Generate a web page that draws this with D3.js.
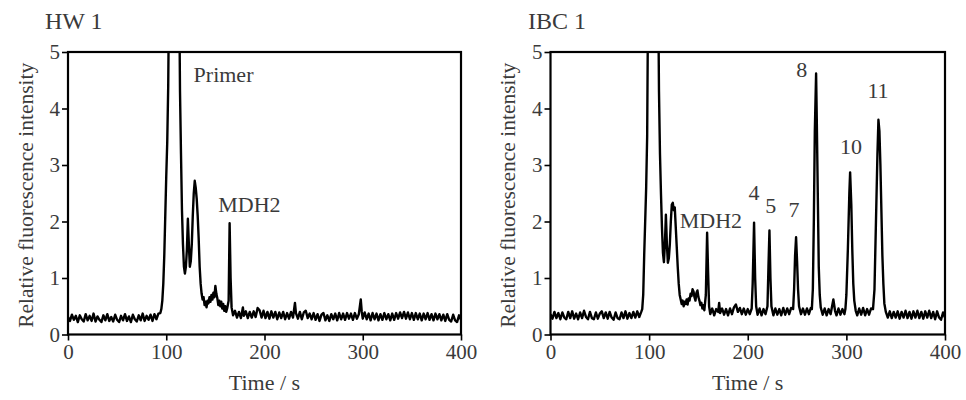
<!DOCTYPE html>
<html><head><meta charset="utf-8">
<script src="https://cdn.jsdelivr.net/npm/d3@7"></script>
<style>
body{margin:0;background:#fff;}
svg text{font-family:"Liberation Serif","Times New Roman",Times,serif;fill:#3a3a3a;}
</style></head>
<body><svg id="c" width="966" height="400"></svg>
<script>
const xTicks=[0,100,200,300,400];
const yTicks=[0,1,2,3,4,5];
const panelTitles=["HW 1","IBC 1"];
const xLabel="Time / s";
const yLabel="Relative fluorescence intensity";

// HW 1 trace [time s, intensity]
const hwTrace=[[0,.31],[2,.24],[4,.35],[6,.26],[8,.33],[10,.22],[12,.34],[14,.27],[16,.23],[18,.36],[20,.25],[22,.33],[24,.24],[26,.37],[28,.23],[30,.32],[32,.26],[34,.22],[36,.34],[38,.25],[40,.36],[42,.24],[44,.31],[46,.23],[48,.35],[50,.26],[52,.22],[54,.33],[56,.25],[58,.36],[60,.24],[62,.32],[64,.22],[66,.35],[68,.27],[70,.23],[72,.34],[74,.25],[76,.37],[78,.24],[80,.33],[82,.26],[84,.35],[86,.24],[88,.36],[90,.27],[92,.37],[94,.38],[95,.45],[96,.6],[97,.9],[98,1.4],[99,2.1],[100,2.8],[101,3.4],[102,4.4],[102.6,5.6],[104,6],[112,6],[113.4,5.6],[114,4.3],[115,3.2],[116,2.2],[117,1.6],[118,1.2],[119,1.08],[120,1.2],[121,1.5],[122,2.05],[123,1.6],[124,1.2],[125,1.3],[126,1.6],[127,2.1],[128,2.5],[129,2.72],[130,2.6],[131,2.4],[132,2.1],[133,1.7],[134,1.2],[135,.9],[136,.72],[137,.62],[138,.66],[139,.52],[140,.58],[141,.48],[142,.6],[143,.55],[144,.66],[145,.58],[146,.7],[147,.62],[148,.74],[149,.66],[150,.86],[151,.72],[152,.64],[153,.52],[154,.6],[155,.5],[156,.58],[157,.46],[158,.54],[159,.42],[160,.5],[161,.4],[162,.46],[163.5,.6],[164.5,1.97],[165.5,1.0],[166.5,.48],[168,.34],[170,.42],[172,.30],[174,.40],[176,.29],[178,.48],[179,.33],[181,.41],[183,.29],[185,.40],[187,.30],[189,.41],[191,.31],[193,.47],[195,.43],[197,.30],[199,.42],[201,.29],[203,.40],[205,.28],[207,.41],[209,.30],[211,.40],[213,.27],[215,.39],[217,.29],[219,.40],[221,.27],[223,.38],[225,.28],[227,.40],[229,.30],[231,.56],[232,.38],[234,.28],[236,.40],[238,.27],[240,.39],[242,.42],[244,.29],[246,.37],[248,.27],[250,.38],[252,.26],[254,.36],[256,.24],[258,.35],[260,.38],[262,.25],[264,.34],[266,.24],[268,.36],[270,.27],[272,.37],[274,.25],[276,.38],[278,.27],[280,.37],[282,.26],[284,.38],[286,.28],[288,.37],[290,.26],[292,.38],[294,.28],[296,.36],[298,.62],[299,.40],[300,.28],[302,.39],[304,.27],[306,.37],[308,.25],[310,.38],[312,.27],[314,.37],[316,.25],[318,.36],[320,.26],[322,.38],[324,.27],[326,.36],[328,.25],[330,.37],[332,.26],[334,.38],[336,.28],[338,.39],[340,.29],[342,.40],[344,.28],[346,.39],[348,.27],[350,.38],[352,.26],[354,.38],[356,.27],[358,.37],[360,.25],[362,.37],[364,.27],[366,.38],[368,.26],[370,.36],[372,.25],[374,.37],[376,.27],[378,.36],[380,.25],[382,.35],[384,.24],[386,.36],[388,.26],[390,.23],[392,.35],[394,.25],[396,.22],[398,.34],[400,.26]];

// IBC 1 trace [time s, intensity]
const ibcTrace=[[0,.36],[2,.28],[4,.40],[6,.29],[8,.38],[10,.27],[12,.39],[14,.30],[16,.27],[18,.40],[20,.29],[22,.41],[24,.28],[26,.37],[28,.27],[30,.39],[32,.29],[34,.42],[36,.31],[38,.27],[40,.40],[42,.29],[44,.27],[46,.39],[48,.28],[50,.37],[52,.41],[54,.29],[56,.39],[58,.28],[60,.40],[62,.30],[64,.26],[66,.39],[68,.29],[70,.27],[72,.39],[74,.29],[76,.41],[78,.28],[80,.38],[82,.29],[84,.40],[86,.30],[88,.41],[90,.31],[92,.40],[93,.45],[94,.7],[95,1.4],[96,2.0],[97,2.6],[98,3.5],[98.8,5.6],[100,6],[108,6],[109.4,5.6],[110,4.3],[111,3.2],[112,2.5],[113,1.9],[114,1.45],[115,1.28],[116,1.6],[117,2.12],[118,1.6],[119,1.27],[120,1.35],[121,1.6],[122,2.0],[123,2.3],[124,2.33],[125,2.2],[126,2.25],[127,1.9],[128,1.55],[129,1.2],[130,.9],[131,.7],[132,.62],[133,.54],[134,.6],[135,.5],[136,.58],[137,.54],[138,.62],[139,.53],[140,.64],[141,.6],[142,.72],[143,.68],[144,.8],[145,.76],[146,.66],[147,.6],[148,.74],[149,.78],[150,.66],[151,.6],[152,.52],[153,.56],[154,.46],[155,.52],[156,.43],[157.5,.7],[158.8,1.8],[159.8,1.1],[160.8,.5],[162,.36],[164,.46],[166,.34],[168,.45],[170,.40],[171,.56],[172,.38],[174,.46],[176,.35],[178,.45],[180,.34],[182,.46],[184,.36],[186,.48],[188,.53],[190,.40],[192,.47],[194,.36],[196,.46],[198,.35],[200,.45],[202,.36],[204,.46],[205,.9],[206.4,1.98],[207.5,1.0],[208.5,.5],[210,.35],[212,.46],[214,.34],[216,.45],[218,.36],[220,.5],[221,1.2],[222,1.84],[223,1.0],[224,.5],[226,.34],[228,.46],[230,.35],[232,.45],[234,.34],[236,.47],[238,.35],[240,.46],[242,.36],[244,.47],[246,.45],[247,.8],[248,1.4],[249,1.72],[250,1.3],[251,.8],[252,.5],[254,.36],[256,.46],[258,.35],[260,.46],[262,.36],[264,.47],[265,.45],[266,.8],[267,2.0],[268,3.6],[269.3,4.62],[270,3.8],[271,2.5],[272,1.2],[273,.7],[274,.48],[276,.35],[278,.46],[280,.34],[282,.45],[284,.36],[285,.45],[286.8,.62],[288.5,.42],[290,.34],[292,.46],[294,.35],[296,.45],[298,.36],[299,.45],[300,.7],[301.5,1.5],[303,2.5],[303.8,2.87],[305,2.3],[306,1.5],[307,.9],[308,.6],[309.5,.42],[311,.34],[313,.46],[315,.35],[317,.47],[319,.34],[321,.45],[323,.35],[325,.46],[327,.45],[328.5,.8],[330,2.0],[331.5,3.2],[332.5,3.8],[333.5,3.6],[334.5,3.0],[335.5,2.2],[336.5,1.4],[337.5,.9],[338.5,.55],[340,.40],[342,.30],[344,.41],[346,.29],[348,.40],[350,.30],[352,.41],[354,.28],[356,.40],[358,.30],[360,.42],[362,.29],[364,.40],[366,.28],[368,.41],[370,.30],[372,.42],[374,.29],[376,.40],[378,.28],[380,.41],[382,.30],[384,.42],[386,.29],[388,.40],[390,.27],[392,.41],[394,.30],[396,.26],[398,.39],[400,.30]];

const hwLabels=[{t:"Primer",x:158.3,y:4.47},{t:"MDH2",x:184.7,y:2.17}];
const ibcLabels=[{t:"MDH2",x:162.7,y:1.885},{t:"4",x:206.3,y:2.38},{t:"5",x:223.3,y:2.15},{t:"7",x:246.9,y:2.08},{t:"8",x:254.7,y:4.56},{t:"10",x:304.7,y:3.19},{t:"11",x:332.1,y:4.19}];

const svg=d3.select("#c");
const panels=[
 {title:panelTitles[0],data:hwTrace,labels:hwLabels,x0:68,x1:461,titleX:45,ylabX:33},
 {title:panelTitles[1],data:ibcTrace,labels:ibcLabels,x0:550.5,x1:945,titleX:528,ylabX:515}
];
const yTop=52,yBot=334.5;
panels.forEach((p,i)=>{
  const x=d3.scaleLinear().domain([0,400]).range([p.x0,p.x1]);
  const y=d3.scaleLinear().domain([0,5]).range([yBot,yTop]);
  const g=svg.append("g");
  const cid="clip"+i;
  svg.append("clipPath").attr("id",cid).append("rect")
    .attr("x",p.x0).attr("y",yTop).attr("width",p.x1-p.x0).attr("height",yBot-yTop);
  g.append("path").datum(p.data)
    .attr("clip-path",`url(#${cid})`)
    .attr("fill","none").attr("stroke","#000").attr("stroke-width",2.4).attr("stroke-linejoin","round")
    .attr("d",d3.line().x(d=>x(d[0])).y(d=>y(d[1])));
  g.append("rect").attr("x",p.x0).attr("y",yTop).attr("width",p.x1-p.x0).attr("height",yBot-yTop)
    .attr("fill","none").attr("stroke","#000").attr("stroke-width",2.2);
  const ax=g.append("g").attr("transform",`translate(0,${yBot})`)
    .call(d3.axisBottom(x).tickValues(xTicks).tickSize(6).tickPadding(3).tickFormat(d3.format("d")));
  const ay=g.append("g").attr("transform",`translate(${p.x0},0)`)
    .call(d3.axisLeft(y).tickValues(yTicks).tickSize(6).tickPadding(2).tickFormat(d3.format("d")));
  [ax,ay].forEach(a=>{
    a.attr("font-family",null).attr("font-size",null);
    a.select(".domain").remove();
    a.selectAll(".tick line").attr("stroke","#000").attr("stroke-width",1.6);
    a.selectAll("text").style("font-size","21px").attr("fill","#3a3a3a");
  });
  ax.selectAll("text").attr("dy","0.75em");
  g.append("text").attr("x",(p.x0+p.x1)/2).attr("y",390).attr("text-anchor","middle")
    .style("font-size","22px").text(xLabel);
  g.append("text").attr("transform",`translate(${p.ylabX},${(yTop+yBot)/2+2}) rotate(-90)`)
    .attr("text-anchor","middle").style("font-size","21.5px").text(yLabel);
  g.append("text").attr("x",p.titleX).attr("y",29).style("font-size","24px").text(p.title);
  p.labels.forEach(l=>{
    g.append("text").attr("x",x(l.x)).attr("y",y(l.y)).attr("text-anchor","middle")
      .style("font-size","22px").text(l.t);
  });
});
</script></body></html>
